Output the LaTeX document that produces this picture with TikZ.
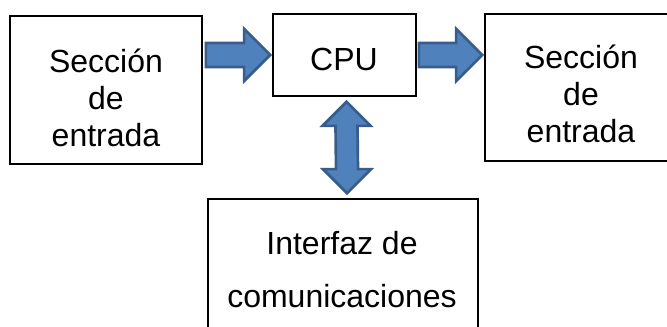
\documentclass[tikz,border=0pt]{standalone}
\usepackage{fontspec}
\setmainfont{Liberation Sans}
\usetikzlibrary{calc,fit}
\definecolor{arrowfill}{RGB}{79,129,189}
\definecolor{arrowline}{RGB}{56,93,138}

\begin{document}
\begin{tikzpicture}[x=.75pt,y=-.75pt,
  blk/.style={draw=black,line width=1.3pt,inner sep=0pt},
  txt/.style={align=center,inner sep=0pt,font=\fontsize{24}{27.75}\selectfont},
  barrow/.style={fill=arrowfill,draw=arrowline,line width=2pt,line join=miter}]
\clip (0,0) rectangle (667,327);
% boxes
\node[blk,fit={(10,16) (202,164)}] (secin) {};
\node[blk,fit={(273,14) (416,96)}] (cpu) {};
\node[blk,fit={(485,14) (700,161)}] (secout) {};
\node[blk,fit={(208,199) (478,360)}] (iface) {};
% texts (base = last line)
\node[txt,anchor=base] (secintxt) at (106,147) {Sección\\de\\entrada};
\node[txt,anchor=base] (cputxt) at (344,71) {CPU};
\node[txt,anchor=base] (secouttxt) at (581,143) {Sección\\de\\entrada};
\node[txt,anchor=base,font=\fontsize{24}{39.75}\selectfont] (ifacetxt) at (342,308) {Interfaz de\\comunicaciones};
% arrows
\coordinate (a1) at ($(secin.east |- cpu.west)+(3,0)$);
\coordinate (a2) at ($(cpu.west)+(-2,0)$);
\draw[barrow] ($(a1)+(0,-12)$) -- ($(a2)+(-26,-12)$) -- ($(a2)+(-26,-26)$) -- (a2)
  -- ($(a2)+(-26,26)$) -- ($(a2)+(-26,12)$) -- ($(a1)+(0,12)$) -- cycle;
\coordinate (a3) at ($(cpu.east)+(2,0)$);
\coordinate (a4) at ($(secout.west |- cpu.east)+(-2,0)$);
\draw[barrow] ($(a3)+(0,-12)$) -- ($(a4)+(-26,-12)$) -- ($(a4)+(-26,-26)$) -- (a4)
  -- ($(a4)+(-26,26)$) -- ($(a4)+(-26,12)$) -- ($(a3)+(0,12)$) -- cycle;
\coordinate (a5) at ($(cpu.south)+(2,5)$);
\coordinate (a6) at ($(iface.north)+(4,-5)$);
\draw[barrow] (a5) -- ($(a5)+(24,24)$) -- ($(a5)+(11,24)$) -- ($(a6)+(11,-24)$)
  -- ($(a6)+(24,-24)$) -- (a6) -- ($(a6)+(-24,-24)$) -- ($(a6)+(-11,-24)$)
  -- ($(a5)+(-11,24)$) -- ($(a5)+(-24,24)$) -- cycle;
\end{tikzpicture}
\end{document}
